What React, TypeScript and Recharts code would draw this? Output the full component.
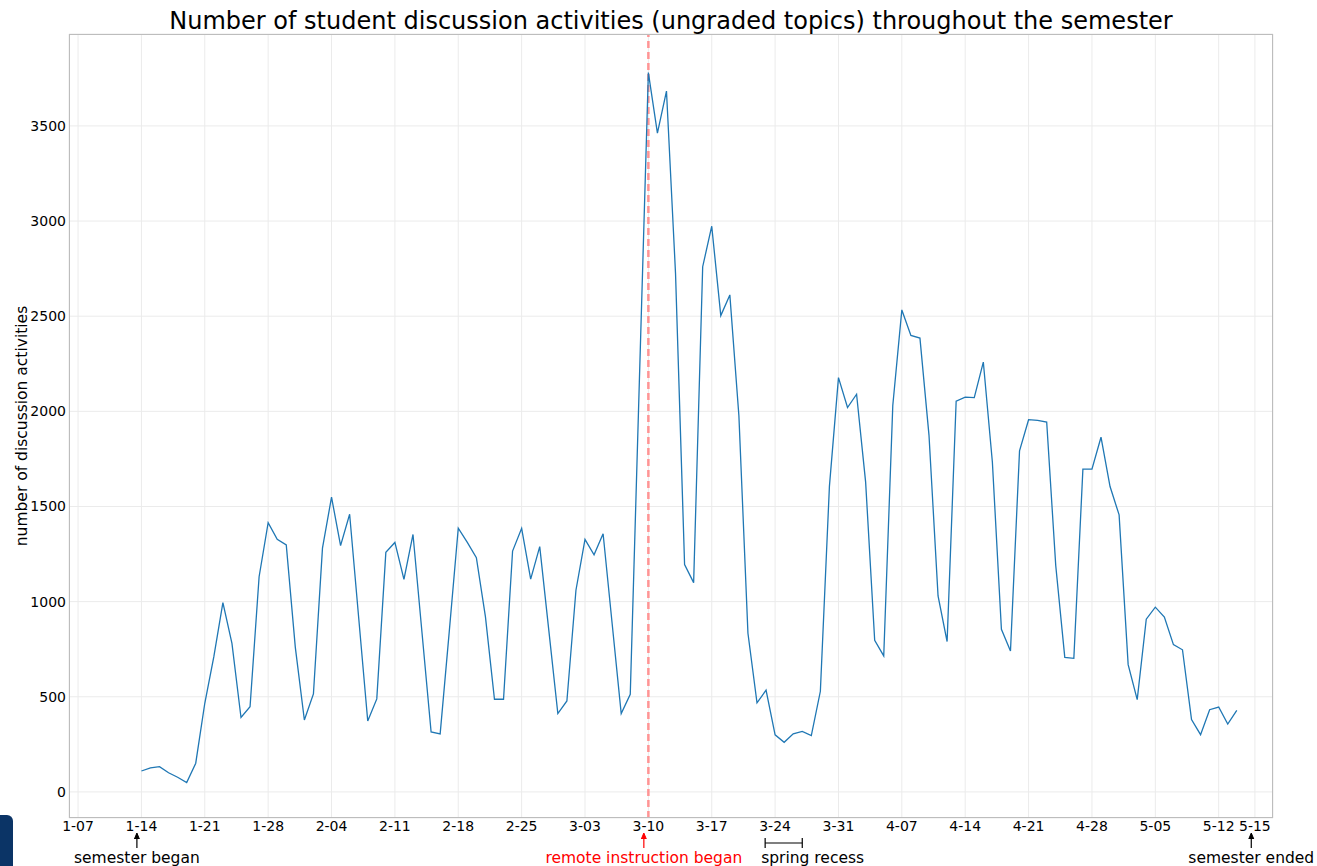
import { LineChart, Line, XAxis, YAxis, CartesianGrid, ReferenceLine } from 'recharts';

// days are counted from 1-07 (day 0); the series starts on 1-14
const FIRST_DAY = 7;

const activities = [
  110, 126, 133, 101, 77, 49, 151, 466, 711, 995, 781, 391, 448, 1131,
  1415, 1328, 1298, 760, 378, 515, 1281, 1549, 1294, 1459, 915, 373, 489, 1259,
  1311, 1117, 1353, 834, 315, 305, 840, 1386, 1311, 1231, 921, 487, 487, 1266,
  1385, 1118, 1289, 850, 412, 478, 1060, 1327, 1246, 1357, 884, 412, 513, 2150,
  3780, 3462, 3683, 2725, 1195, 1100, 2760, 2973, 2503, 2612, 1977, 834, 468, 535,
  300, 261, 305, 318, 296, 529, 1606, 2177, 2020, 2090, 1628, 797, 715, 2031,
  2533, 2399, 2385, 1874, 1030, 790, 2054, 2075, 2072, 2259, 1734, 855, 741, 1792,
  1956, 1953, 1944, 1190, 707, 702, 1696, 1696, 1864, 1605, 1456, 669, 485, 908,
  971, 919, 774, 747, 380, 301, 432, 446, 357, 429,
];

const xTickDays = [0, 7, 14, 21, 28, 35, 42, 49, 56, 63, 70, 77, 84, 91, 98, 105, 112, 119, 126, 130];
const xTickLabels = [
  '1-07', '1-14', '1-21', '1-28', '2-04', '2-11', '2-18', '2-25', '3-03', '3-10',
  '3-17', '3-24', '3-31', '4-07', '4-14', '4-21', '4-28', '5-05', '5-12', '5-15',
];
const yTicks = [0, 500, 1000, 1500, 2000, 2500, 3000, 3500];

const remoteDay = 63;
const arrowNotes = [
  { day: 6.5, text: 'semester began', color: '#000' },
  { day: 62.5, text: 'remote instruction began', color: '#ff0000' },
  { day: 129.6, text: 'semester ended', color: '#000' },
];
const recess = { from: 75.9, to: 80, text: 'spring recess' };

const W = 1317;
const H = 866;
const plot = { left: 69, top: 34, right: 1273, bottom: 818 };
const xDomain = [-1, 132];
const yDomain = [-137, 3983];
const font = '"DejaVu Sans", sans-serif';

const data = activities.map((v, i) => ({ day: FIRST_DAY + i, count: v }));

function xPos(day: number) {
  return plot.left + ((day - xDomain[0]) / (xDomain[1] - xDomain[0])) * (plot.right - plot.left);
}

function Overlay() {
  return (
    <svg width={W} height={H} style={{ position: 'absolute', left: 0, top: 0, pointerEvents: 'none' }}>
      <rect x={plot.left + 0.5} y={plot.top + 0.5} width={plot.right - plot.left - 1} height={plot.bottom - plot.top - 1}
        fill="none" stroke="#bdbdbd" strokeWidth={1} />
      <text x={(plot.left + plot.right) / 2} y={29} textAnchor="middle" fontSize={24} fontFamily={font} fill="#000">
        Number of student discussion activities (ungraded topics) throughout the semester
      </text>
      <text transform="translate(22,426) rotate(-90)" textAnchor="middle" dominantBaseline="central"
        fontSize={15.5} fontFamily={font} fill="#000">
        number of discussion activities
      </text>
      {arrowNotes.map(n => {
        const x = xPos(n.day);
        return (
          <g key={n.text}>
            <line x1={x} y1={848} x2={x} y2={834} stroke={n.color} strokeWidth={1.2} />
            <path d={`M${x - 2.5},${839} L${x},${833} L${x + 2.5},${839}`} fill={n.color} stroke={n.color} strokeWidth={1} />
            <text x={x} y={863} textAnchor="middle" fontSize={15.5} fontFamily={font} fill={n.color}>{n.text}</text>
          </g>
        );
      })}
      <g stroke="#000" strokeWidth={1.2}>
        <line x1={xPos(recess.from)} y1={843} x2={xPos(recess.to)} y2={843} />
        <line x1={xPos(recess.from)} y1={838} x2={xPos(recess.from)} y2={848} />
        <line x1={xPos(recess.to)} y1={838} x2={xPos(recess.to)} y2={848} />
      </g>
      <text x={xPos(recess.from) - 4} y={863} fontSize={15.5} fontFamily={font} fill="#000">{recess.text}</text>
    </svg>
  );
}

export default function App() {
  return (
    <div style={{ position: 'absolute', left: 0, top: 0, width: W, height: H, background: '#fff', fontFamily: font }}>
      <LineChart width={W} height={H} data={data} margin={{ top: plot.top, right: W - plot.right, bottom: 18, left: 0 }}>
        <CartesianGrid stroke="#ebebeb" strokeWidth={1} />
        <XAxis dataKey="day" type="number" domain={xDomain} allowDataOverflow ticks={xTickDays}
          tickFormatter={(d: number) => xTickLabels[xTickDays.indexOf(d)]}
          axisLine={false} tickLine={false} tickSize={0} tickMargin={3} height={30} interval={0}
          tick={{ fontSize: 14, fill: '#000', fontFamily: font }} />
        <YAxis type="number" domain={yDomain} allowDataOverflow ticks={yTicks} width={plot.left}
          axisLine={false} tickLine={false} tickSize={0} tickMargin={3}
          tick={{ fontSize: 14, fill: '#000', fontFamily: font }} />
        <ReferenceLine x={remoteDay} stroke="#ff9494" strokeWidth={2.5} strokeDasharray="7 4" />
        <Line type="linear" dataKey="count" stroke="#1f77b4" strokeWidth={1.3} dot={false} isAnimationActive={false} />
      </LineChart>
      <Overlay />
      <div style={{ position: 'absolute', left: 0, top: 815, width: 13, height: 51, background: '#0b3466', borderTopRightRadius: 6 }} />
    </div>
  );
}
